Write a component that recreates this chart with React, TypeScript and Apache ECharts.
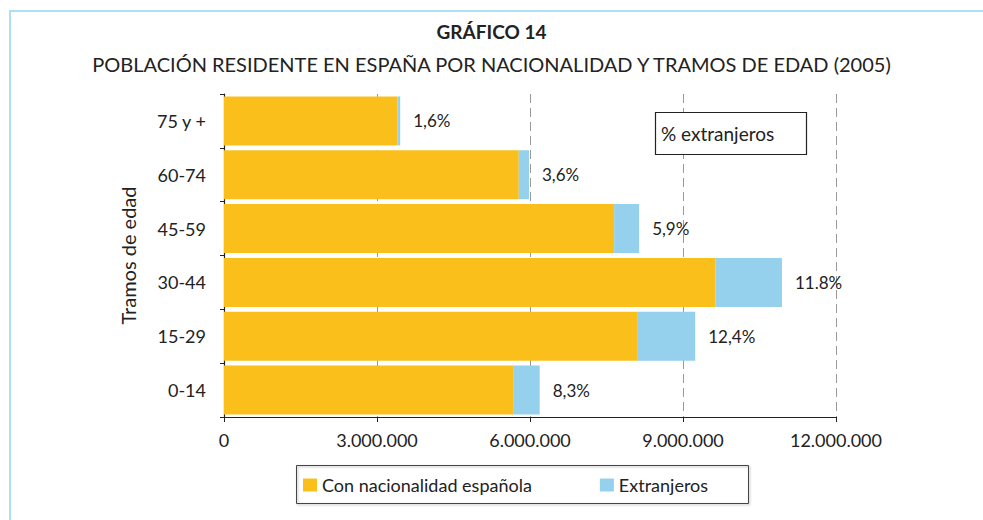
import React, { useEffect, useRef } from "react";
import * as echarts from "echarts";

const categories = ["0-14", "15-29", "30-44", "45-59", "60-74", "75 y +"];
const spanish = [5670000, 8100000, 9640000, 7650000, 5780000, 3400000];
const foreign = [520000, 1140000, 1300000, 490000, 200000, 55000];
const pctLabels = ["8,3%", "12,4%", "11.8%", "5,9%", "3,6%", "1,6%"];

const FONT = "Lato, 'Open Sans', sans-serif";

function fmt(v: number): string {
  return String(Math.round(v)).replace(/\B(?=(\d{3})+(?!\d))/g, ".");
}

export default function App() {
  const ref = useRef<HTMLDivElement>(null);
  useEffect(() => {
    if (!ref.current) return;
    const chart = echarts.init(ref.current, null, { renderer: "svg" });
    chart.setOption({
      animation: false,
      backgroundColor: "#ffffff",
      textStyle: { fontFamily: FONT },
      title: [
        {
          text: "GRÁFICO 14",
          left: "center",
          top: 17,
          textStyle: { fontFamily: FONT, fontSize: 19, fontWeight: "bold", color: "#222" },
        },
        {
          text: "POBLACIÓN RESIDENTE EN ESPAÑA POR NACIONALIDAD Y TRAMOS DE EDAD (2005)",
          left: "center",
          top: 49,
          textStyle: { fontFamily: FONT, fontSize: 20, fontWeight: "normal", color: "#222" },
        },
      ],
      grid: { left: 224, right: 147, top: 94, bottom: 103, containLabel: false },
      legend: {
        left: 303,
        top: 476,
        padding: 0,
        itemWidth: 14,
        itemHeight: 13,
        itemGap: 68,
        icon: "rect",
        textStyle: { fontFamily: FONT, fontSize: 18, color: "#222" },
        data: ["Con nacionalidad española", "Extranjeros"],
      },
      xAxis: {
        type: "value",
        min: 0,
        max: 12000000,
        interval: 3000000,
        axisLine: { show: true, lineStyle: { color: "#222", width: 1.2 } },
        axisTick: { show: true, length: 5, lineStyle: { color: "#222" } },
        axisLabel: {
          margin: 14,
          fontFamily: FONT,
          fontSize: 18,
          color: "#222",
          formatter: (v: number) => fmt(v),
        },
        splitLine: { show: true, lineStyle: { color: "#999", type: [9, 5], width: 1 } },
      },
      yAxis: {
        type: "category",
        data: categories,
        name: "Tramos de edad",
        nameLocation: "middle",
        nameGap: 86,
        nameTextStyle: { fontFamily: FONT, fontSize: 20, color: "#222" },
        axisLine: { show: true, lineStyle: { color: "#222", width: 1.2 } },
        axisTick: { show: true, length: 4, lineStyle: { color: "#222" } },
        axisLabel: { margin: 18, fontFamily: FONT, fontSize: 18, color: "#222" },
      },
      series: [
        {
          name: "Con nacionalidad española",
          type: "bar",
          stack: "total",
          data: spanish,
          barCategoryGap: "9%",
          itemStyle: { color: "#FBBF1C" },
        },
        {
          name: "Extranjeros",
          type: "bar",
          stack: "total",
          data: foreign,
          barCategoryGap: "9%",
          itemStyle: { color: "#95D0EC" },
          label: {
            show: true,
            position: "right",
            distance: 13,
            fontFamily: FONT,
            fontSize: 17,
            color: "#222",
            formatter: (p: any) => pctLabels[p.dataIndex],
          },
        },
      ],
      graphic: [
        {
          type: "rect",
          shape: { x: 10, y: 11, width: 1000, height: 540 },
          style: { fill: "none", stroke: "#AEE0F5", lineWidth: 2 },
          silent: true,
        },
        {
          type: "rect",
          shape: { x: 655.5, y: 112.5, width: 151, height: 42 },
          style: { fill: "#fff", stroke: "#222", lineWidth: 1.2 },
          z: 10,
        },
        {
          type: "text",
          x: 661,
          y: 133,
          style: {
            text: "% extranjeros",
            fontFamily: FONT,
            fontSize: 19,
            fill: "#222",
            verticalAlign: "middle",
          },
          z: 11,
        },
        {
          type: "rect",
          shape: { x: 296.5, y: 465.5, width: 452, height: 38 },
          style: { fill: "none", stroke: "#444", lineWidth: 1, shadowBlur: 2, shadowColor: "rgba(0,0,0,0.3)", shadowOffsetX: 1, shadowOffsetY: 1 },
          z: 10,
        },
      ],
    });
    return () => chart.dispose();
  }, []);
  return (
    <div
      ref={ref}
      style={{ position: "fixed", left: 0, top: 0, width: 983, height: 520 }}
    />
  );
}
